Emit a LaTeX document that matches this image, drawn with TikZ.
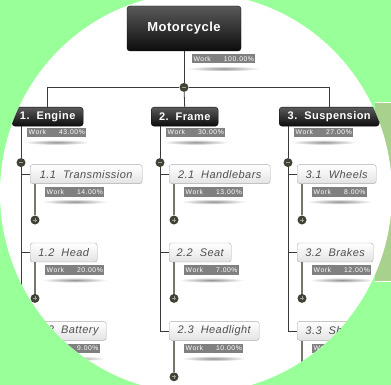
\documentclass[tikz,border=0pt]{standalone}
\usepackage{fontspec}
\setmainfont{Liberation Sans}
\newfontfamily\boxfont[LetterSpace=4]{Liberation Sans}
\newfontfamily\workfont[LetterSpace=8]{Liberation Sans}
\usepackage{xcolor}
\definecolor{colorBack}{RGB}{153,255,153}
\definecolor{colorSide}{RGB}{169,209,142}
\definecolor{colorTop}{RGB}{90,90,90}
\definecolor{colorBottom}{RGB}{12,12,12}
\definecolor{colorWork}{RGB}{128,128,128}
\definecolor{colorLine}{RGB}{58,58,58}
\definecolor{colorStub}{RGB}{118,118,108}
\definecolor{colorDot}{RGB}{66,66,52}
\definecolor{colorItem}{RGB}{80,80,80}
\usetikzlibrary{positioning}
\tikzset{
  topbox/.style={rectangle, rounded corners=3pt, top color=colorTop, bottom color=colorBottom, draw=colorBottom, text=white, inner sep=0pt, minimum height=19pt, font=\boxfont\fontsize{11}{12}\selectfont\bfseries},
  subbox/.style={rectangle, rounded corners=2.5pt, top color=white, bottom color=gray!22, draw=gray!65, text=colorItem, inner sep=0pt, minimum height=19pt, font=\boxfont\fontsize{11}{12}\selectfont\itshape},
  work/.style={fill=colorWork, text=white, inner xsep=1.5pt, inner ysep=0pt, minimum height=9.5pt, font=\workfont\fontsize{6.8}{7}\selectfont},
  dotm/.style={circle, fill=colorDot, minimum size=9pt, inner sep=0pt, path picture={\draw[gray!75, line width=0.8pt] ([xshift=-2pt]path picture bounding box.center) -- ([xshift=2pt]path picture bounding box.center);}},
  dotp/.style={circle, fill=colorDot, minimum size=9pt, inner sep=0pt, path picture={\draw[gray!75, line width=0.8pt] ([xshift=-2pt]path picture bounding box.center) -- ([xshift=2pt]path picture bounding box.center) ([yshift=-2pt]path picture bounding box.center) -- ([yshift=2pt]path picture bounding box.center);}},
  tree/.style={draw=colorLine, line width=0.8pt},
  stub/.style={draw=colorStub, line width=1.6pt},
  shadow/.style={inner color=gray!85, outer color=white}
}
\begin{document}
\begin{tikzpicture}[x=1pt, y=-1pt]
\useasboundingbox (0,0) rectangle (391,385);
\fill[colorBack] (0,0) rectangle (391,385);
\fill[colorSide] (375,103) rectangle (391,281);
\draw[white, line width=1pt] (375,103) -- (391,103) (375,281) -- (391,281);
\fill[white] (196,193) ellipse [x radius=196pt, y radius=200pt];
\begin{scope}
\clip (196,193) ellipse [x radius=196pt, y radius=200pt];
\node[topbox, minimum width=114pt, minimum height=45pt, font=\boxfont\fontsize{13}{14}\selectfont\bfseries] (t0) at (184,28.5) {Motorcycle};
\node[work, below right=2.5pt and 65pt of t0.south west] (k0) {Work\hspace{13pt}100.00\%};
\node[dotm, below=31.5pt of t0.south] (d0) {};

\node[topbox, minimum width=71pt, anchor=north west] (t1) at (12,107) {1.\ \ Engine};
\node[topbox, minimum width=67pt, anchor=north west] (t2) at (151,107) {2.\ \ Frame};
\node[topbox, minimum width=100pt, anchor=north west] (t3) at (279,107) {3.\ \ Suspension};
\node[work, below right=1pt and 15pt of t1.south west] (k1) {Work\hspace{13pt}43.00\%};
\node[work, below right=1pt and 15pt of t2.south west] (k2) {Work\hspace{13pt}30.00\%};
\node[work, below right=1pt and 15pt of t3.south west] (k3) {Work\hspace{13pt}27.00\%};
\node[dotm, below=31.5pt of t1.south west, xshift=9pt] (d1) {};
\node[dotm, below=31.5pt of t2.south west, xshift=9pt] (d2) {};
\node[dotm, below=31.5pt of t3.south west, xshift=9pt] (d3) {};

\node[subbox, minimum width=112pt, below right=38pt and 18pt of t1.south west] (t11) {1.1\ \ Transmission};
\node[subbox, minimum width=67pt, below=59pt of t11.south west, anchor=north west] (t12) {1.2\ \ Head};
\node[subbox, minimum width=76pt, below=59pt of t12.south west, anchor=north west] (t13) {1.3\ \ Battery};
\node[subbox, minimum width=101pt, below right=38pt and 18pt of t2.south west] (t21) {2.1\ \ Handlebars};
\node[subbox, minimum width=62pt, below=59pt of t21.south west, anchor=north west] (t22) {2.2\ \ Seat};
\node[subbox, minimum width=90pt, below=59pt of t22.south west, anchor=north west] (t23) {2.3\ \ Headlight};
\node[subbox, minimum width=79pt, below right=38pt and 18pt of t3.south west] (t31) {3.1\ \ Wheels};
\node[subbox, minimum width=76pt, below=59pt of t31.south west, anchor=north west] (t32) {3.2\ \ Brakes};
\node[subbox, minimum width=78pt, below=59pt of t32.south west, anchor=north west] (t33) {3.3\ \ Shocks};

\node[work, below right=3pt and 15pt of t11.south west] (k11) {Work\hspace{13pt}14.00\%};
\node[work, below right=3pt and 15pt of t12.south west] (k12) {Work\hspace{13pt}20.00\%};
\node[work, below right=3pt and 15pt of t13.south west] (k13) {Work\hspace{13pt}9.00\%};
\node[work, below right=3pt and 15pt of t21.south west] (k21) {Work\hspace{13pt}13.00\%};
\node[work, below right=3pt and 15pt of t22.south west] (k22) {Work\hspace{13pt}7.00\%};
\node[work, below right=3pt and 15pt of t23.south west] (k23) {Work\hspace{13pt}10.00\%};
\node[work, below right=3pt and 15pt of t31.south west] (k31) {Work\hspace{13pt}8.00\%};
\node[work, below right=3pt and 15pt of t32.south west] (k32) {Work\hspace{13pt}12.00\%};
\node[work, below right=3pt and 15pt of t33.south west] (k33) {Work\hspace{13pt}7.00\%};

\node[dotp, below=31.5pt of t11.south west, xshift=5pt] (d11) {};
\node[dotp, below=31.5pt of t12.south west, xshift=5pt] (d12) {};
\node[dotp, below=31.5pt of t13.south west, xshift=5pt] (d13) {};
\node[dotp, below=31.5pt of t21.south west, xshift=5pt] (d21) {};
\node[dotp, below=31.5pt of t22.south west, xshift=5pt] (d22) {};
\node[dotp, below=31.5pt of t23.south west, xshift=5pt] (d23) {};
\node[dotp, below=31.5pt of t31.south west, xshift=5pt] (d31) {};
\node[dotp, below=31.5pt of t32.south west, xshift=5pt] (d32) {};
\node[dotp, below=31.5pt of t33.south west, xshift=5pt] (d33) {};

\draw[tree] (t0.south) -- (d0);
\draw[tree] (t1.north) -- (t1.north |- d0) -- (d0);
\draw[tree] (d0) -- (t3.north |- d0) -- (t3.north);
\draw[tree] (d0) -- (t2.north);
\draw[tree] (d1) -- (d1 |- t1.south) (d1) |- (t13.west) (d1 |- t11.west) -- (t11.west) (d1 |- t12.west) -- (t12.west);
\draw[tree] (d2) -- (d2 |- t2.south) (d2) |- (t23.west) (d2 |- t21.west) -- (t21.west) (d2 |- t22.west) -- (t22.west);
\draw[tree] (d3) -- (d3 |- t3.south) (d3) |- (t33.west) (d3 |- t31.west) -- (t31.west) (d3 |- t32.west) -- (t32.west);
\draw[stub] (d11) -- (d11 |- t11.south);
\draw[stub] (d12) -- (d12 |- t12.south);
\draw[stub] (d13) -- (d13 |- t13.south);
\draw[stub] (d21) -- (d21 |- t21.south);
\draw[stub] (d22) -- (d22 |- t22.south);
\draw[stub] (d23) -- (d23 |- t23.south);
\draw[stub] (d31) -- (d31 |- t31.south);
\draw[stub] (d32) -- (d32 |- t32.south);
\draw[stub] (d33) -- (d33 |- t33.south);

\shade[shadow] ([yshift=-5pt]k0.south) ellipse [x radius=37pt, y radius=2.6pt];
\shade[shadow] ([yshift=-5pt]k1.south) ellipse [x radius=33pt, y radius=2.6pt];
\shade[shadow] ([yshift=-5pt]k2.south) ellipse [x radius=33pt, y radius=2.6pt];
\shade[shadow] ([yshift=-5pt]k3.south) ellipse [x radius=33pt, y radius=2.6pt];
\shade[shadow] ([yshift=-5pt]k11.south) ellipse [x radius=33pt, y radius=2.6pt];
\shade[shadow] ([yshift=-5pt]k12.south) ellipse [x radius=33pt, y radius=2.6pt];
\shade[shadow] ([yshift=-5pt]k13.south) ellipse [x radius=33pt, y radius=2.6pt];
\shade[shadow] ([yshift=-5pt]k21.south) ellipse [x radius=33pt, y radius=2.6pt];
\shade[shadow] ([yshift=-5pt]k22.south) ellipse [x radius=33pt, y radius=2.6pt];
\shade[shadow] ([yshift=-5pt]k23.south) ellipse [x radius=33pt, y radius=2.6pt];
\shade[shadow] ([yshift=-5pt]k31.south) ellipse [x radius=33pt, y radius=2.6pt];
\shade[shadow] ([yshift=-5pt]k32.south) ellipse [x radius=33pt, y radius=2.6pt];
\shade[shadow] ([yshift=-5pt]k33.south) ellipse [x radius=33pt, y radius=2.6pt];
\end{scope}
\end{tikzpicture}
\end{document}
